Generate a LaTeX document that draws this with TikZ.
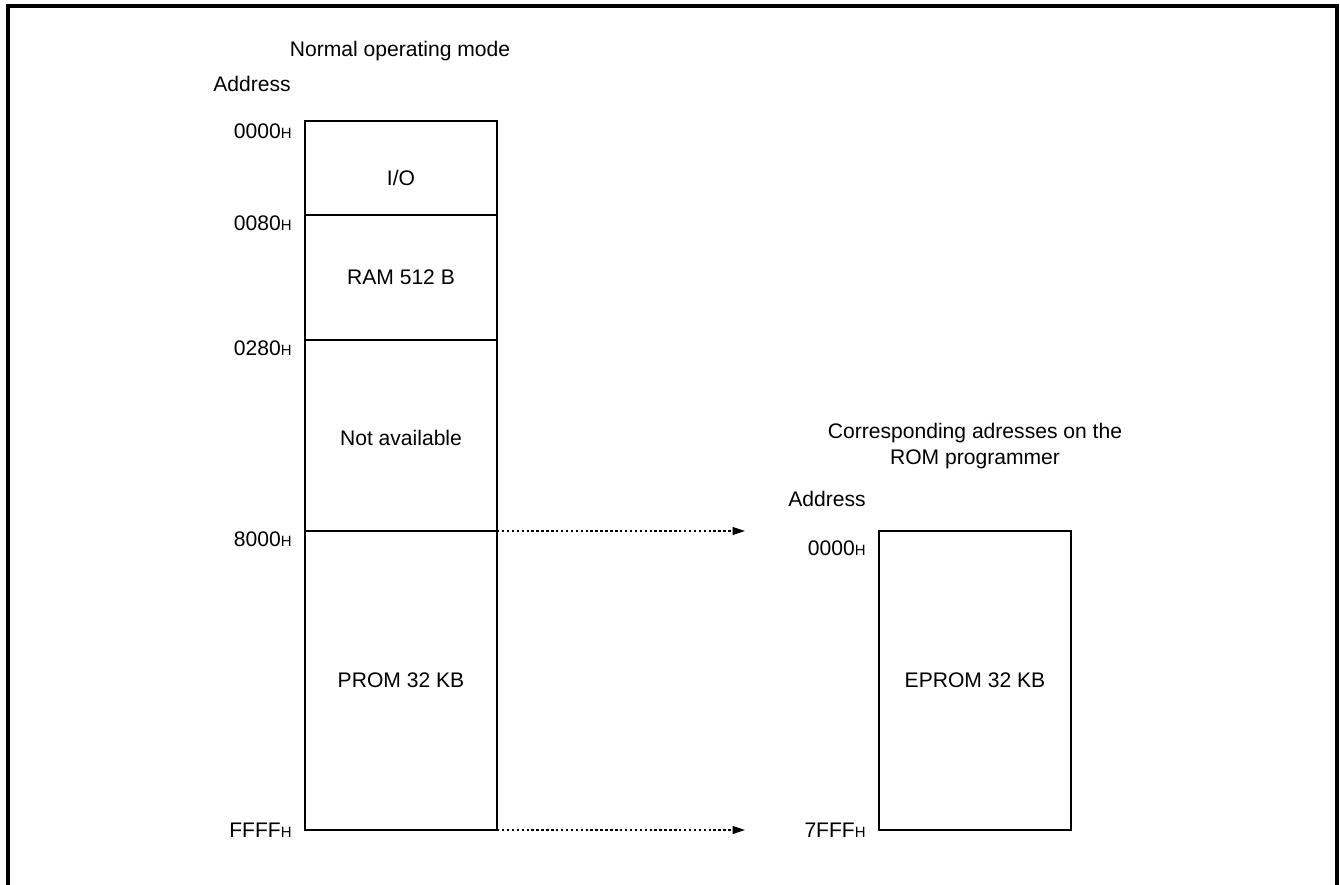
\documentclass[tikz,border=0pt]{standalone}
\usepackage{fontspec}
\setmainfont{Liberation Sans}
\usetikzlibrary{arrows.meta}
\newcommand{\hx}{{\fontsize{8.5}{10}\selectfont H}}
\begin{document}
\begin{tikzpicture}[x=0.02cm,y=-0.02cm,
  every node/.style={font=\fontsize{12}{14.4}\selectfont, inner sep=0pt},
  addr/.style={anchor=east},
  memline/.style={line width=1.2pt},
  divline/.style={line width=0.6pt},
  link/.style={line width=0.6pt, dash pattern=on 1.4pt off 1.4pt, -{Triangle[length=7pt,width=4.5pt]}}]
\useasboundingbox (0,0) rectangle (1340,885);
\draw[line width=2pt] (8,885) |- (1337,6) -- (1337,885);
% normal operating mode
\node (normal) at (400,51) {Normal operating mode};
\node (addrl) at (252,84) {Address};
\draw[memline] (305,121) rectangle (497,830);
\foreach \y in {215,340,531} \draw[divline] (305,\y) -- (497,\y);
\node (io) at (401,178) {I/O};
\node (ram) at (401,277) {RAM 512 B};
\node (na) at (401,438) {Not available};
\node (prom) at (401,680) {PROM 32 KB};
\node[addr] (a0000) at (292,131) {0000\hx};
\node[addr] (a0080) at (292,223) {0080\hx};
\node[addr] (a0280) at (292,348) {0280\hx};
\node[addr] (a8000) at (292,539) {8000\hx};
\node[addr] (affff) at (292,830) {FFFF\hx};
% ROM programmer
\node[align=center] (corr) at (975,446) {Corresponding adresses on the\\ROM programmer};
\node (addrr) at (827,499) {Address};
\draw[memline] (879,531) rectangle (1071,830);
\node (eprom) at (975,680) {EPROM 32 KB};
\node[addr] (b0000) at (866,548) {0000\hx};
\node[addr] (b7fff) at (866,830) {7FFF\hx};
% mapping
\coordinate (p8000) at (497,531);
\coordinate (q0000) at (745,531);
\coordinate (pffff) at (497,830);
\coordinate (q7fff) at (745,830);
\draw[link] (p8000) -- (q0000);
\draw[link] (pffff) -- (q7fff);
\end{tikzpicture}
\end{document}
